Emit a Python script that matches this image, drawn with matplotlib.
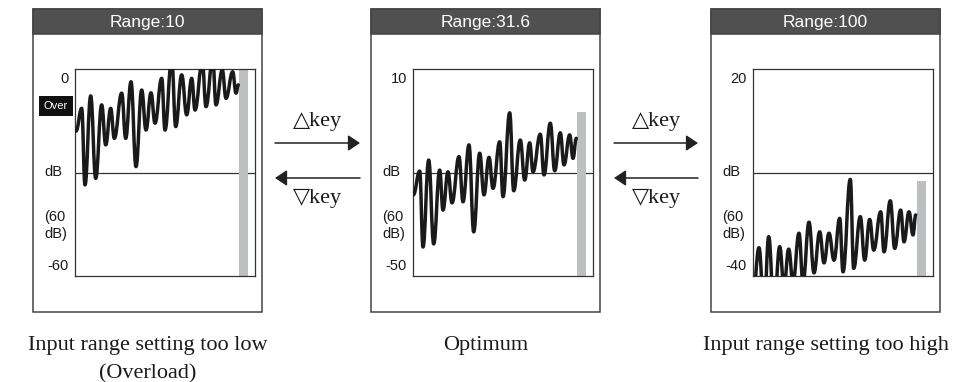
import matplotlib
matplotlib.use('Agg')
import matplotlib.pyplot as plt
from matplotlib.path import Path
from matplotlib.patches import PathPatch, Rectangle, FancyArrowPatch

plt.rcParams['font.family'] = ['Liberation Sans', 'DejaVu Sans']

# --- data -----------------------------------------------------------------
titles = ['Range:10', 'Range:31.6', 'Range:100']
top_db = [0, 10, 20]
bottom_db = [-60, -50, -40]
peak_hold = [0, -2.5, -12.5]          # top of the grey level bar
captions = ['Input range setting too low\n(Overload)', 'Optimum',
            'Input range setting too high']

# extrema of the spectrum curve (x in screen columns, y in dB)
low_x = [1, 6.7, 10, 15.7, 20.7, 26.7, 30.7, 35.7, 39.3, 46.7,
         50.7, 56, 61, 66.7, 71, 76, 80, 86.7, 90, 96.7,
         100.7, 106.7, 111.7, 116.7, 120, 127.3, 131, 137.7, 141, 147.3,
         151, 157.7, 161, 163.3]
low_db = [-18.0, -11.4, -33.6, -7.8, -31.7, -10.4, -22.0, -11.4, -20.1, -7.0,
          -20.1, -3.7, -28.3, -6.1, -17.7, -6.9, -15.7, -2.7, -17.7, 3,
          -16.7, -1.7, -13.3, -2.7, -11.9, 2, -10.9, 3, -10.4, -0.3,
          -8.5, -0.8, -7.0, -4.6]

opt_x = [0.3, 6.7, 10, 15.7, 20.7, 26.7, 30, 35, 39, 46,
         50, 56, 60.7, 66.7, 71, 76, 80, 86.7, 90, 96.7,
         100.7, 107.3, 111.7, 116.7, 120, 127.3, 131, 137.3, 141.7, 147.3,
         151, 156.7, 160, 163.3]
opt_db = [-26.5, -19.6, -41.6, -16.4, -40.7, -19.3, -30.9, -19.8, -28.8, -15.4,
          -28.5, -12.0, -37.2, -14.4, -26.5, -15.6, -24.6, -11.1, -27.0, -2.7,
          -25.3, -10.6, -22.2, -11.4, -19.8, -8.9, -20.7, -5.7, -19.5, -8.5,
          -17.8, -9.1, -15.9, -10.1]

high_x = [0, 6, 11, 15.7, 21, 26.7, 31, 35.7, 40, 46,
          50, 56, 61, 66.7, 71, 76, 81, 86.7, 90, 97.3,
          100.7, 107.3, 111.7, 116.7, 120.7, 127.7, 131, 137.3, 141.7, 147.7,
          151, 156, 160, 162.7]
high_db = [-46, -31.8, -50, -28.6, -50, -31.5, -43, -32.2, -42, -27.6,
           -42, -24.4, -39.1, -27.2, -36.2, -27.6, -35.4, -23.3, -38.8, -12.0,
           -37.8, -22.8, -35.4, -23.6, -32.5, -21.4, -33.0, -18.2, -32.0, -20.9,
           -30.1, -21.4, -28.1, -22.3]

curves_x = [low_x, opt_x, high_x]
curves_db = [low_db, opt_db, high_db]

# --- layout (pixels) ------------------------------------------------------
W, H = 974, 382
outer_left = [33, 371, 711]
outer_w, outer_top, outer_bot = 229, 9, 312
bar_h = 25
plot_dx, plot_top, plot_w, plot_h = 42, 69, 180, 207
bar_x, bar_w = 168.5, 9
arrows_x = [(275, 360), (614, 698)]
frame_col = '#444444'


def wave_path(x, y, k=0.42):
    verts = [(x[0], y[0])]
    codes = [Path.MOVETO]
    for i in range(1, len(x)):
        dx = x[i] - x[i - 1]
        verts += [(x[i - 1] + k * dx, y[i - 1]), (x[i] - k * dx, y[i]), (x[i], y[i])]
        codes += [Path.CURVE4] * 3
    return Path(verts, codes)


fig = plt.figure(figsize=(W / 100, H / 100), dpi=100)
bg = fig.add_axes([0, 0, 1, 1])
bg.set_xlim(0, W)
bg.set_ylim(H, 0)
bg.axis('off')

for i in range(3):
    ol = outer_left[i]
    cx = ol + outer_w / 2
    bg.add_patch(Rectangle((ol, outer_top), outer_w, outer_bot - outer_top,
                           fill=False, ec=frame_col, lw=1.1))
    bg.add_patch(Rectangle((ol, outer_top), outer_w, bar_h,
                           fc='#505050', ec=frame_col, lw=1.1))
    bg.text(cx, outer_top + bar_h / 2 + 0.5, titles[i], color='white',
            ha='center', va='center', fontsize=12.5)
    for j, line in enumerate(captions[i].split('\n')):
        bg.text(cx, 350 + 28 * j, line, ha='center', va='baseline',
                fontsize=16, family='Liberation Serif', color='#1a1a1a')

    ax = fig.add_axes([(ol + plot_dx) / W, (H - plot_top - plot_h) / H,
                       plot_w / W, plot_h / H])
    top, bot = top_db[i], bottom_db[i]
    ax.set_xlim(0, 180)
    ax.set_ylim(bot, top)
    ax.set_xticks([])
    ax.set_yticks([])
    for s in ax.spines.values():
        s.set_color('#333333')
        s.set_linewidth(0.9)
    ax.axhline((top + bot) / 2, color='#333333', lw=0.9, zorder=1)
    ax.bar(bar_x, peak_hold[i] - bot, bottom=bot, width=bar_w,
           color='#bdbfc1', zorder=2)
    ax.add_patch(PathPatch(wave_path(curves_x[i], curves_db[i]), fill=False,
                           ec='#1a1a1a', lw=2.5, zorder=3,
                           capstyle='round', joinstyle='round'))

    kw = dict(xycoords='axes fraction', textcoords='offset pixels',
              va='center', fontsize=10.5, color='#1a1a1a')
    ax.annotate(str(top), xy=(0, 1), xytext=(-6, -10), ha='right', **kw)
    ax.annotate(str(bot), xy=(0, 0), xytext=(-6, 10), ha='right', **kw)
    ax.annotate('dB', xy=(0, 0.5), xytext=(-31, 0), ha='left', **kw)
    ax.annotate('(60', xy=(0, 0.285), xytext=(-31, 0), ha='left', **kw)
    ax.annotate('dB)', xy=(0, 0.205), xytext=(-31, 0), ha='left', **kw)
    if i == 0:
        ax.annotate('Over', xy=(0, 0.821), xytext=(-7, 0), xycoords='axes fraction',
                    textcoords='offset pixels', ha='right', va='center',
                    fontsize=8, color='white',
                    bbox=dict(boxstyle='square,pad=0.45', fc='#111111', ec='none'))

for x0, x1 in arrows_x:
    style = '-|>,head_length=0.6,head_width=0.4'
    bg.add_patch(FancyArrowPatch((x0, 143), (x1, 143), arrowstyle=style,
                                 mutation_scale=12, lw=1.1, color='#222222',
                                 shrinkA=0, shrinkB=0))
    bg.add_patch(FancyArrowPatch((x1, 178), (x0, 178), arrowstyle=style,
                                 mutation_scale=12, lw=1.1, color='#222222',
                                 shrinkA=0, shrinkB=0))
    mx = (x0 + x1) / 2
    bg.text(mx, 126, '\u25b3key', ha='center', va='baseline', fontsize=16,
            family=['Liberation Serif', 'DejaVu Sans'], color='#1a1a1a')
    bg.text(mx, 203, '\u25bdkey', ha='center', va='baseline', fontsize=16,
            family=['Liberation Serif', 'DejaVu Sans'], color='#1a1a1a')

fig.savefig('out.png', dpi=100)
